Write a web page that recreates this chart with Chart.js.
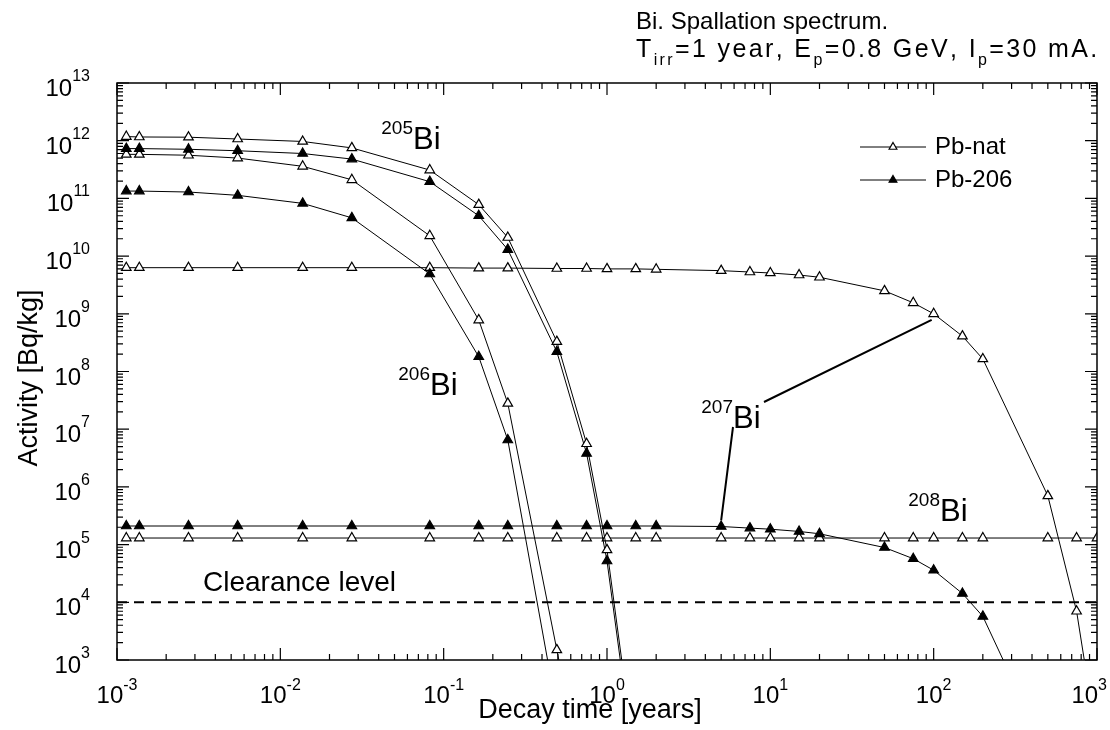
<!DOCTYPE html>
<html>
<head>
<meta charset="utf-8">
<script src="https://cdn.jsdelivr.net/npm/chart.js@4.4.0/dist/chart.umd.min.js"></script>
<style>
html, body { margin: 0; padding: 0; background: #fff; }
</style>
</head>
<body>
<canvas id="myChart" width="1110" height="730"></canvas>
<script>
// decay times [years], shared by all series (each series uses the first N)
var decayTime = [0.00114, 0.00137, 0.00274, 0.00548, 0.0137, 0.0274, 0.0822, 0.164, 0.247, 0.493, 0.75, 1, 1.5, 2,
                 5, 7.5, 10, 15, 20, 50, 75, 100, 150, 200, 500, 750, 1000];

// activity [Bq/kg]
var bi205Nat = [1.18e12, 1.16e12, 1.15e12, 1.07e12, 9.7e11, 7.5e11, 3.1e11, 7.8e10, 2.1e10, 3.3e8, 5.6e6, 8.1e4, 15];
var bi205Pb206 = [7.3e11, 7.3e11, 7.1e11, 6.7e11, 6.0e11, 4.8e11, 1.95e11, 5.0e10, 1.3e10, 2.2e8, 3.8e6, 5.2e4, 10];
var bi206Nat = [5.8e11, 5.8e11, 5.6e11, 5.0e11, 3.6e11, 2.1e11, 2.25e10, 7.8e8, 2.8e7, 1.5e3, 4];
var bi206Pb206 = [1.34e11, 1.34e11, 1.29e11, 1.13e11, 8.2e10, 4.6e10, 4.9e9, 1.8e8, 6.5e6, 130];
var bi207Nat = [6.3e9, 6.3e9, 6.3e9, 6.3e9, 6.3e9, 6.3e9, 6.3e9, 6.2e9, 6.2e9, 6.1e9, 6.1e9, 6.0e9, 6.0e9, 5.9e9,
                5.6e9, 5.3e9, 5.1e9, 4.7e9, 4.3e9, 2.5e9, 1.55e9, 1.0e9, 4.1e8, 1.65e8, 7e5, 7e3, 40];
var bi207Pb206 = [2.1e5, 2.1e5, 2.1e5, 2.1e5, 2.1e5, 2.1e5, 2.1e5, 2.1e5, 2.1e5, 2.1e5, 2.1e5, 2.1e5, 2.1e5, 2.1e5,
                  2.06e5, 1.93e5, 1.85e5, 1.69e5, 1.54e5, 8.9e4, 5.7e4, 3.6e4, 1.42e4, 5.7e3, 22];
var bi208Nat = [1.3e5, 1.3e5, 1.3e5, 1.3e5, 1.3e5, 1.3e5, 1.3e5, 1.3e5, 1.3e5, 1.3e5, 1.3e5, 1.3e5, 1.3e5, 1.3e5,
                1.3e5, 1.3e5, 1.3e5, 1.3e5, 1.3e5, 1.3e5, 1.3e5, 1.3e5, 1.3e5, 1.3e5, 1.3e5, 1.3e5, 1.3e5];
var clearanceLevel = [1e4, 1e4];
var clearanceTime = [1e-3, 1e3];

var xTickExp = [-3, -2, -1, 0, 1, 2, 3];
var yTickExp = [3, 4, 5, 6, 7, 8, 9, 10, 11, 12, 13];
var legendLabels = ['Pb-nat', 'Pb-206'];

var FONT = '"Liberation Sans", Arial, sans-serif';

function pairs(xs, ys) {
    var out = [];
    for (var i = 0; i < ys.length; i++) out.push({x: xs[i], y: ys[i]});
    return out;
}

function series(vals, filled) {
    return {
        data: pairs(decayTime, vals),
        borderColor: '#000',
        borderWidth: 1,
        backgroundColor: filled ? '#000' : '#fff',
        pointBorderColor: '#000',
        pointBackgroundColor: filled ? '#000' : '#fff',
        pointStyle: 'triangle',
        pointRadius: 5.5,
        pointBorderWidth: 1.2,
        tension: 0,
        fill: false
    };
}

// 1..9 x 10^n ticks for the log axes
function logTicks(exps) {
    var t = [];
    for (var i = 0; i < exps.length; i++) {
        var d = Math.pow(10, exps[i]);
        t.push({value: d, major: true});
        if (i < exps.length - 1) {
            for (var k = 2; k <= 9; k++) t.push({value: k * d, major: false});
        }
    }
    return t;
}

function supText(ctx, base, sup, x, y, bSize, sSize, rise, align) {
    ctx.font = bSize + 'px ' + FONT;
    var wb = ctx.measureText(base).width;
    ctx.font = sSize + 'px ' + FONT;
    var ws = ctx.measureText(sup).width;
    var left = x;
    if (align === 'center') left = x - (wb + ws) / 2;
    if (align === 'right') left = x - wb - ws;
    // keep the last label inside the canvas
    if (left + wb + ws > 1107) left = 1107 - wb - ws;
    ctx.textAlign = 'left';
    ctx.textBaseline = 'alphabetic';
    ctx.font = bSize + 'px ' + FONT;
    ctx.fillText(base, left, y);
    ctx.font = sSize + 'px ' + FONT;
    ctx.fillText(sup, left + wb, y - rise);
}

// isotope label: superscript mass number before "Bi"
function isoLabel(ctx, mass, x, y) {
    ctx.textAlign = 'right';
    ctx.textBaseline = 'alphabetic';
    ctx.font = '19px ' + FONT;
    ctx.fillText(mass, x, y - 15);
    ctx.textAlign = 'left';
    ctx.font = '31px ' + FONT;
    ctx.fillText('Bi', x, y);
}

function triangle(ctx, x, y, r, filled) {
    ctx.beginPath();
    ctx.moveTo(x, y - r);
    ctx.lineTo(x + r * 0.866, y + r / 2);
    ctx.lineTo(x - r * 0.866, y + r / 2);
    ctx.closePath();
    ctx.fillStyle = filled ? '#000' : '#fff';
    ctx.fill();
    ctx.lineWidth = 1.2;
    ctx.strokeStyle = '#000';
    ctx.stroke();
}

var framePlugin = {
    id: 'frame',
    afterDatasetsDraw: function(chart) {
        var ctx = chart.ctx, a = chart.chartArea;
        var xs = chart.scales.x, ys = chart.scales.y;
        ctx.save();
        ctx.fillStyle = '#000';
        ctx.strokeStyle = '#000';

        /*207Bi leader lines*/
        var pNat = chart.getDatasetMeta(4).data[21];
        var p206 = chart.getDatasetMeta(5).data[14];
        ctx.lineWidth = 2;
        ctx.beginPath();
        ctx.moveTo(764, 402);
        ctx.lineTo(pNat.x - 2, pNat.y + 6);
        ctx.moveTo(733, 427);
        ctx.lineTo(p206.x, p206.y - 6);
        ctx.stroke();

        /*frame*/
        ctx.lineWidth = 1.5;
        ctx.strokeRect(a.left, a.top, a.right - a.left, a.bottom - a.top);

        /*inward ticks on all four sides*/
        ctx.lineWidth = 1.2;
        ctx.beginPath();
        xs.ticks.forEach(function(t) {
            var px = xs.getPixelForValue(t.value);
            var len = t.major ? 12 : 6;
            ctx.moveTo(px, a.bottom); ctx.lineTo(px, a.bottom - len);
            ctx.moveTo(px, a.top); ctx.lineTo(px, a.top + len);
        });
        ys.ticks.forEach(function(t) {
            var py = ys.getPixelForValue(t.value);
            var len = t.major ? 12 : 6;
            ctx.moveTo(a.left, py); ctx.lineTo(a.left + len, py);
            ctx.moveTo(a.right, py); ctx.lineTo(a.right - len, py);
        });
        ctx.stroke();

        /*tick labels*/
        xTickExp.forEach(function(e) {
            var px = xs.getPixelForValue(Math.pow(10, e));
            supText(ctx, '10', String(e), px, 703, 24, 16, 13, 'center');
        });
        yTickExp.forEach(function(e) {
            var py = ys.getPixelForValue(Math.pow(10, e));
            supText(ctx, '10', String(e), 90, py + 13, 24, 16, 15, 'right');
        });

        /*axis titles*/
        ctx.font = '27px ' + FONT;
        ctx.textAlign = 'center';
        ctx.textBaseline = 'alphabetic';
        ctx.fillText('Decay time [years]', 590, 718);
        ctx.save();
        ctx.translate(37, 378);
        ctx.rotate(-Math.PI / 2);
        ctx.font = '27px ' + FONT;
        ctx.fillText('Activity [Bq/kg]', 0, 0);
        ctx.restore();

        /*title*/
        ctx.textAlign = 'left';
        ctx.font = '24px ' + FONT;
        ctx.fillText('Bi. Spallation spectrum.', 636, 29);
        var parts = [['T', 0], ['irr', 1], ['=1 year, E', 0], ['p', 1], ['=0.8 GeV, I', 0], ['p', 1], ['=30 mA.', 0]];
        var natural = 0, nChars = 0;
        parts.forEach(function(p) {
            ctx.font = (p[1] ? 16 : 25) + 'px ' + FONT;
            natural += ctx.measureText(p[0]).width;
            nChars += p[0].length;
        });
        var gap = Math.max(0, (1096 - 636 - natural) / nChars);
        var x = 636, y = 57;
        parts.forEach(function(p) {
            ctx.font = (p[1] ? 16 : 25) + 'px ' + FONT;
            for (var i = 0; i < p[0].length; i++) {
                var ch = p[0].charAt(i);
                ctx.fillText(ch, x, p[1] ? y + 8 : y);
                x += ctx.measureText(ch).width + gap;
            }
        });

        /*isotope labels*/
        isoLabel(ctx, '205', 413, 149);
        isoLabel(ctx, '206', 430, 395);
        isoLabel(ctx, '207', 733, 428);
        isoLabel(ctx, '208', 940, 521);

        ctx.font = '28px ' + FONT;
        ctx.textAlign = 'left';
        ctx.fillText('Clearance level', 203, 591);

        /*legend*/
        legendLabels.forEach(function(lab, i) {
            var ly = 147 + i * 33;
            ctx.lineWidth = 1;
            ctx.beginPath();
            ctx.moveTo(860, ly); ctx.lineTo(926, ly);
            ctx.stroke();
            triangle(ctx, 893, ly, 4.5, i === 1);
            ctx.fillStyle = '#000';
            ctx.font = '24px ' + FONT;
            ctx.textAlign = 'left';
            ctx.textBaseline = 'middle';
            ctx.fillText(lab, 935, ly);
            ctx.textBaseline = 'alphabetic';
        });
        ctx.restore();
    }
};

var ctx = document.getElementById("myChart").getContext('2d');
var myChart = new Chart(ctx, {
    type: 'line',
    data: {
        datasets: [
            series(bi205Nat, false),
            series(bi205Pb206, true),
            series(bi206Nat, false),
            series(bi206Pb206, true),
            series(bi207Nat, false),
            series(bi207Pb206, true),
            series(bi208Nat, false),
            {
                data: pairs(clearanceTime, clearanceLevel),
                borderColor: '#000',
                borderWidth: 2,
                borderDash: [10, 7],
                pointRadius: 0,
                fill: false
            }
        ]
    },
    options: {
        responsive: false,
        animation: false,
        layout: {
            padding: { left: 117, right: 13, top: 83, bottom: 70 }
        },
        plugins: {
            legend: { display: false },
            tooltip: { enabled: false }
        },
        scales: {
            x: {
                type: 'logarithmic',
                min: 1e-3,
                max: 1e3,
                grid: { display: false },
                border: { display: false },
                ticks: { display: false },
                afterBuildTicks: function(s) { s.ticks = logTicks(xTickExp); },
                afterFit: function(s) { s.height = 0; }
            },
            y: {
                type: 'logarithmic',
                min: 1e3,
                max: 1e13,
                grid: { display: false },
                border: { display: false },
                ticks: { display: false },
                afterBuildTicks: function(s) { s.ticks = logTicks(yTickExp); },
                afterFit: function(s) { s.width = 0; }
            }
        }
    },
    plugins: [framePlugin]
});
</script>
</body>
</html>
